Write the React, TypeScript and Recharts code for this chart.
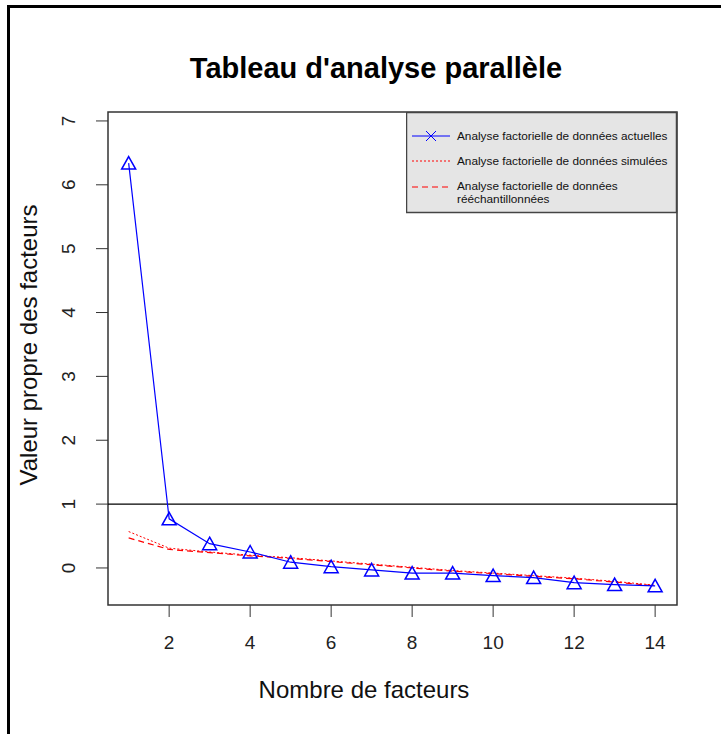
import React from "react";
import {
  LineChart, Line, XAxis, YAxis, ReferenceLine, ReferenceArea,
} from "recharts";

const factors = [1, 2, 3, 4, 5, 6, 7, 8, 9, 10, 11, 12, 13, 14];
const actual = [6.34, 0.77, 0.38, 0.25, 0.09, 0.02, -0.03, -0.08, -0.08, -0.12, -0.15, -0.23, -0.26, -0.28];
const simulated = [0.57, 0.31, 0.25, 0.2, 0.16, 0.11, 0.06, 0.01, -0.04, -0.08, -0.12, -0.16, -0.21, -0.27];
const resampled = [0.47, 0.29, 0.24, 0.19, 0.15, 0.1, 0.05, 0.0, -0.05, -0.09, -0.13, -0.17, -0.22, -0.28];
const xTicks = [2, 4, 6, 8, 10, 12, 14];
const yTicks = [0, 1, 2, 3, 4, 5, 6, 7];

const data = factors.map((f, i) => ({
  f, actual: actual[i], simulated: simulated[i], resampled: resampled[i],
}));

const FONT = "'Liberation Sans', Arial, Helvetica, sans-serif";
const X_DOMAIN: [number, number] = [0.49, 14.54];
const Y_DOMAIN: [number, number] = [-0.58, 7.14];

/* ── triangle marker (pch 2) ── */
function Triangle(props: any) {
  const { cx, cy } = props;
  if (cx == null || cy == null) return null;
  return (
    <path d={`M${cx},${cy - 6.5} L${cx + 7},${cy + 6} L${cx - 7},${cy + 6} Z`}
      fill="none" stroke="#0000ff" strokeWidth={1.5} />
  );
}

function XTick({ x, y, payload }: any) {
  return (
    <text x={x} y={y + 30} textAnchor="middle" fontSize={19} fill="#222" fontFamily={FONT}>
      {payload.value}
    </text>
  );
}

function YTick({ x, y, payload }: any) {
  const tx = x - 19;
  return (
    <text x={tx} y={y} textAnchor="middle" fontSize={19} fill="#222" fontFamily={FONT}
      transform={`rotate(-90, ${tx}, ${y})`}>
      {payload.value}
    </text>
  );
}

/* ── légende ── */
function LegendBox() {
  const txt = { fontFamily: "'Liberation Sans Narrow', 'Arial Narrow', sans-serif", fontSize: 11.8, fill: "#111" };
  return (
    <svg width={272} height={102} style={{ position: "absolute", left: 406, top: 112 }}>
      <rect x={0.5} y={0.5} width={270} height={100} fill="#e5e5e5" stroke="#444" strokeWidth={1.5} />
      <line x1={6} x2={44} y1={24} y2={24} stroke="#0000ff" strokeWidth={1} />
      <path d="M20,19 L30,29 M20,29 L30,19" stroke="#0000ff" strokeWidth={1} />
      <text x={51} y={28} {...txt}>Analyse factorielle de données actuelles</text>
      <line x1={6} x2={44} y1={49} y2={49} stroke="#ff0000" strokeWidth={1} strokeDasharray="2 2" />
      <text x={51} y={53} {...txt}>Analyse factorielle de données simulées</text>
      <line x1={6} x2={44} y1={75} y2={75} stroke="#ff0000" strokeWidth={1.2} strokeDasharray="6 4" />
      <text x={51} y={78} {...txt}>Analyse factorielle de données</text>
      <text x={51} y={91} {...txt}>rééchantillonnées</text>
    </svg>
  );
}

export default function App() {
  return (
    <div style={{ position: "absolute", left: 0, top: 0, width: 721, height: 734, background: "#fff" }}>
      <div style={{ position: "absolute", left: 7, top: 5, width: 3, height: 729, background: "#000" }} />
      <div style={{ position: "absolute", left: 7, top: 5, width: 714, height: 3, background: "#000" }} />
      <div style={{ position: "absolute", left: 0, top: 0 }}>
        <LineChart width={721} height={734} data={data}
          margin={{ top: 112, right: 44, bottom: 0, left: 0 }}>
          <XAxis dataKey="f" type="number" domain={X_DOMAIN} ticks={xTicks} allowDataOverflow
            height={129} axisLine={false} tickSize={12} tickLine={{ stroke: "#333" }} tick={<XTick />}
            interval={0} />
          <YAxis type="number" domain={Y_DOMAIN} ticks={yTicks} allowDataOverflow
            width={108} axisLine={false} tickSize={12} tickLine={{ stroke: "#333" }} tick={<YTick />}
            interval={0} />
          <ReferenceArea x1={X_DOMAIN[0]} x2={X_DOMAIN[1]} y1={Y_DOMAIN[0]} y2={Y_DOMAIN[1]}
            fill="none" stroke="#333" strokeWidth={1.5} fillOpacity={0} />
          <ReferenceLine y={1} stroke="#000" strokeWidth={1.2} />
          <Line dataKey="simulated" stroke="#ff0000" strokeWidth={1} strokeDasharray="2 2"
            dot={false} isAnimationActive={false} />
          <Line dataKey="resampled" stroke="#ff0000" strokeWidth={1.2} strokeDasharray="6 4"
            dot={false} isAnimationActive={false} />
          <Line dataKey="actual" stroke="#0000ff" strokeWidth={1.2} dot={<Triangle />}
            activeDot={false} isAnimationActive={false} />
        </LineChart>
      </div>
      <svg width={721} height={734} style={{ position: "absolute", left: 0, top: 0, pointerEvents: "none" }}>
        <text x={376} y={78} textAnchor="middle" fontSize={29} fontWeight="bold" fontFamily={FONT} fill="#000">
          Tableau d'analyse parallèle
        </text>
        <text x={364} y={698} textAnchor="middle" fontSize={24} fontFamily={FONT} fill="#111">
          Nombre de facteurs
        </text>
        <text x={37} y={345} textAnchor="middle" fontSize={24} fontFamily={FONT} fill="#111"
          transform="rotate(-90, 37, 345)">
          Valeur propre des facteurs
        </text>
      </svg>
      <LegendBox />
    </div>
  );
}
